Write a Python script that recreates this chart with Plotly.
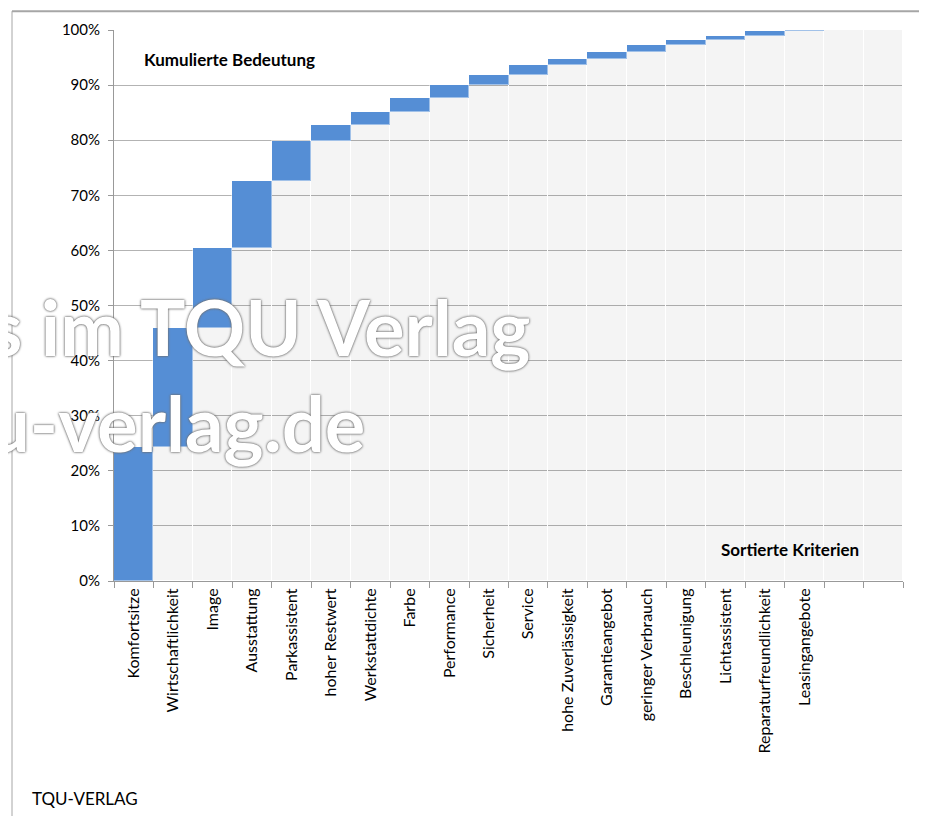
import numpy as np
import plotly.graph_objs as go

# Kriterien, sortiert nach Bedeutung (Anteil in %)
kriterien = ['Komfortsitze', 'Wirtschaftlichkeit', 'Image', 'Ausstattung',
  'Parkassistent', 'hoher Restwert', 'Werkstattdichte', 'Farbe',
  'Performance', 'Sicherheit', 'Service', 'hohe Zuverlässigkeit',
  'Garantieangebot', 'geringer Verbrauch', 'Beschleunigung',
  'Lichtassistent', 'Reparaturfreundlichkeit', 'Leasingangebote']
anteile = [24.3, 21.6, 14.6, 12.1, 7.2, 3.0, 2.4, 2.4, 2.4, 1.9,
  1.7, 1.2, 1.2, 1.2, 0.9, 0.8, 0.9, 0.2]
# two empty slots on the right of the axis
leer = [' ', '  ']
y_ticks = [0, 10, 20, 30, 40, 50, 60, 70, 80, 90, 100]
y_labels = ['0%', '10%', '20%', '30%', '40%', '50%', '60%', '70%', '80%', '90%', '100%']

# page is offset by the body margin (8px), so work in page pixels and shift
OFF = 8
W, H = 927, 816
ml, mt = 114 - OFF, 25 - OFF
mr = W - (903 - OFF)
mb = H - (581 - OFF)
pw = W - ml - mr
ph = H - mt - mb

def px_x(x):
  return (x - OFF - ml) / pw

def px_y(y):
  return (H - mb - (y - OFF)) / ph

kumuliert = np.cumsum(anteile)
basis = list(np.concatenate([[0], kumuliert[:-1]])) + [kumuliert[-1]] * len(leer)
x_cat = kriterien + leer

graph = []
graph.append(
  go.Bar(
    x = x_cat,
    y = basis,
    marker = dict(color = 'rgba(0,0,0,0.045)', line = dict(color = 'white', width = 1)),
    hoverinfo = 'skip',
    showlegend = False
  )
)
graph.append(
  go.Bar(
    x = kriterien,
    y = anteile,
    marker = dict(color = '#558ed5', line = dict(color = 'rgba(255,255,255,0.45)', width = 1)),
    showlegend = False
  )
)

font_family = 'Lato, Carlito, Open Sans, sans-serif'
wm_font = dict(size = 76, color = 'white', weight = 'bold',
  shadow = '0px 0px 2px #555, 0px 0px 3px #888')

layout = dict(
  width = W, height = H,
  margin = dict(l = ml, r = mr, t = mt, b = mb),
  paper_bgcolor = 'white',
  plot_bgcolor = 'white',
  barmode = 'stack',
  bargap = 0,
  font = dict(family = font_family, size = 14, color = 'black'),
  xaxis = dict(
    type = 'category',
    categoryorder = 'array', categoryarray = x_cat,
    tickangle = -90,
    tickson = 'boundaries',
    ticks = 'outside', ticklen = 6, tickcolor = '#999999',
    showline = True, linecolor = '#999999', linewidth = 1,
    showgrid = False,
    tickfont = dict(size = 16)
  ),
  yaxis = dict(
    range = [0, 100],
    tickmode = 'array',
    tickvals = y_ticks,
    ticktext = y_labels,
    ticks = 'outside', ticklen = 5, tickcolor = '#999999',
    ticklabelstandoff = 5,
    showline = True, linecolor = '#999999', linewidth = 1,
    showgrid = True, gridcolor = '#b3b3b3', gridwidth = 1,
    zeroline = False,
    tickfont = dict(size = 15)
  ),
  annotations = [
    dict(text = '<b>Kumulierte Bedeutung</b>', xref = 'paper', yref = 'paper',
      x = px_x(142), y = px_y(55), xanchor = 'left', yanchor = 'middle',
      showarrow = False, font = dict(size = 17)),
    dict(text = '<b>Sortierte Kriterien</b>', xref = 'paper', yref = 'paper',
      x = px_x(861), y = px_y(549), xanchor = 'right', yanchor = 'middle',
      showarrow = False, font = dict(size = 17)),
    dict(text = 'TQU-VERLAG', xref = 'paper', yref = 'paper',
      x = px_x(30), y = px_y(800), xanchor = 'left', yanchor = 'middle',
      showarrow = False, font = dict(size = 17)),
    # watermark
    dict(text = 's im TQU Verlag', xref = 'paper', yref = 'paper',
      x = px_x(532), y = px_y(324), xanchor = 'right', yanchor = 'middle',
      showarrow = False, font = wm_font),
    dict(text = 'u-verlag.de', xref = 'paper', yref = 'paper',
      x = px_x(367), y = px_y(421), xanchor = 'right', yanchor = 'middle',
      showarrow = False, font = wm_font),
  ],
  shapes = [
    dict(type = 'line', xref = 'paper', yref = 'paper',
      x0 = px_x(12), x1 = px_x(12), y0 = px_y(6), y1 = px_y(830),
      line = dict(color = '#a6a6a6', width = 1)),
    dict(type = 'line', xref = 'paper', yref = 'paper',
      x0 = px_x(12), x1 = px_x(940), y0 = px_y(6), y1 = px_y(6),
      line = dict(color = '#a6a6a6', width = 2)),
  ]
)

fig = go.Figure(data = graph, layout = layout)
fig.write_html('out.html')
